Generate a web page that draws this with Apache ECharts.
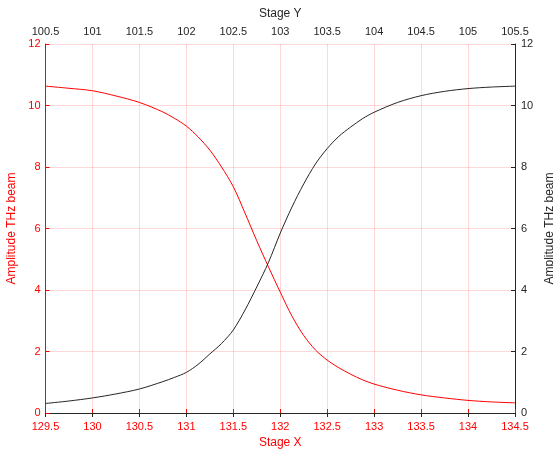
<!DOCTYPE html>
<html>
<head>
<meta charset="utf-8">
<script src="https://cdn.jsdelivr.net/npm/echarts@6/dist/echarts.min.js"></script>
<style>html,body{margin:0;padding:0;background:#fff}#c{width:553px;height:450px}</style>
</head>
<body>
<div id="c"></div>
<script>
// Stage X positions (bottom axis) for the red curve
var stageX = [129.5,129.75,130,130.25,130.5,130.75,130.875,131,131.125,131.25,131.375,131.5,131.625,131.75,131.875,132,132.125,132.25,132.375,132.5,132.625,132.75,132.875,133,133.25,133.5,133.75,134,134.25,134.5];
var redAmp = [10.63,10.56,10.48,10.31,10.10,9.79,9.58,9.33,8.98,8.55,8.0,7.36,6.5,5.6,4.75,3.93,3.15,2.52,2.05,1.72,1.47,1.26,1.08,0.94,0.74,0.59,0.49,0.41,0.36,0.33];
// Stage Y positions (top axis) for the black curve
var stageY = [100.5,100.75,101,101.25,101.5,101.75,101.875,102,102.125,102.25,102.375,102.5,102.625,102.75,102.875,103,103.125,103.25,103.375,103.5,103.625,103.75,103.875,104,104.25,104.5,104.75,105,105.25,105.5];
var blackAmp = [0.31,0.39,0.49,0.62,0.78,1.02,1.16,1.32,1.58,1.92,2.26,2.7,3.35,4.1,4.9,5.85,6.7,7.45,8.1,8.6,9.0,9.3,9.57,9.78,10.1,10.32,10.46,10.55,10.60,10.63];
var yTicks = [0,2,4,6,8,10,12];

var RED = '#ff0000', DARK = '#262626', FONT = 'Liberation Sans';
var chart = echarts.init(document.getElementById('c'));
chart.setOption({
  animation: false,
  backgroundColor: '#fff',
  grid: {left: 45.5, right: 38, top: 44, bottom: 37, containLabel: false, outerBoundsMode: 'none'},
  xAxis: [{
    type: 'value', position: 'bottom', min: 129.5, max: 134.5, interval: 0.5,
    name: 'Stage X', nameLocation: 'middle', nameGap: 23,
    nameTextStyle: {color: RED, fontSize: 12, fontFamily: FONT},
    axisLine: {lineStyle: {color: RED, width: 1}},
    axisTick: {inside: true, length: 4, lineStyle: {color: RED}},
    axisLabel: {color: RED, fontSize: 11, fontFamily: FONT, margin: 8},
    splitLine: {show: true, lineStyle: {color: 'rgba(255,0,0,0.15)', width: 1}}
  }, {
    type: 'value', position: 'top', min: 100.5, max: 105.5, interval: 0.5,
    name: 'Stage Y', nameLocation: 'middle', nameGap: 24,
    nameTextStyle: {color: DARK, fontSize: 12, fontFamily: FONT},
    axisLine: {lineStyle: {color: DARK, width: 1}},
    axisTick: {inside: true, length: 4, lineStyle: {color: DARK}},
    axisLabel: {color: DARK, fontSize: 11, fontFamily: FONT, margin: 7},
    splitLine: {show: false}
  }],
  yAxis: [{
    type: 'value', position: 'left', min: yTicks[0], max: yTicks[yTicks.length-1], interval: 2,
    name: 'Amplitude THz beam', nameLocation: 'middle', nameGap: 22,
    nameTextStyle: {color: RED, fontSize: 12, fontFamily: FONT},
    axisLine: {show: true, lineStyle: {color: RED, width: 1}},
    axisTick: {show: true, inside: true, length: 4, lineStyle: {color: RED}},
    axisLabel: {color: RED, fontSize: 11, fontFamily: FONT, margin: 5},
    splitLine: {show: true, lineStyle: {color: 'rgba(255,0,0,0.15)', width: 1}}
  }, {
    type: 'value', position: 'right', min: yTicks[0], max: yTicks[yTicks.length-1], interval: 2,
    name: 'Amplitude THz beam', nameLocation: 'middle', nameGap: 20, nameRotate: 90,
    nameTextStyle: {color: DARK, fontSize: 12, fontFamily: FONT},
    axisLine: {show: true, lineStyle: {color: DARK, width: 1}},
    axisTick: {show: true, inside: true, length: 4, lineStyle: {color: DARK}},
    axisLabel: {color: DARK, fontSize: 11, fontFamily: FONT, margin: 6},
    splitLine: {show: false}
  }],
  series: [{
    type: 'line', xAxisIndex: 0, yAxisIndex: 0, smooth: 0.3, showSymbol: false,
    lineStyle: {color: RED, width: 1},
    data: stageX.map(function(x, i){ return [x, redAmp[i]]; })
  }, {
    type: 'line', xAxisIndex: 1, yAxisIndex: 1, smooth: 0.3, showSymbol: false,
    lineStyle: {color: DARK, width: 1},
    data: stageY.map(function(x, i){ return [x, blackAmp[i]]; })
  }]
});
</script>
</body>
</html>
